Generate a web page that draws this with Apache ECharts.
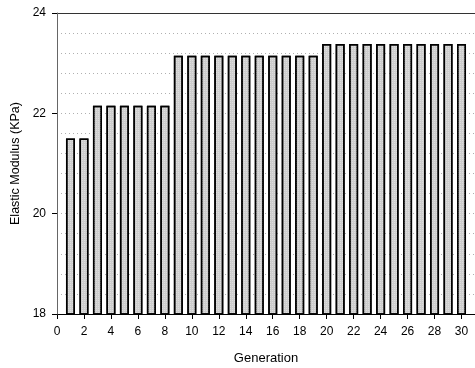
<!DOCTYPE html>
<html><head><meta charset="utf-8">
<script src="https://cdn.jsdelivr.net/npm/echarts@6/dist/echarts.min.js"></script>
<style>html,body{margin:0;padding:0;background:#fff}#c{width:475px;height:368px}</style>
</head><body><div id="c"></div>
<script>
const generations = [1,2,3,4,5,6,7,8,9,10,11,12,13,14,15,16,17,18,19,20,21,22,23,24,25,26,27,28,29,30];
const modulus = [21.5,21.5,22.15,22.15,22.15,22.15,22.15,22.15,23.15,23.15,23.15,23.15,23.15,23.15,23.15,23.15,23.15,23.15,23.15,23.38,23.38,23.38,23.38,23.38,23.38,23.38,23.38,23.38,23.38,23.38];
const xTicks = [0,2,4,6,8,10,12,14,16,18,20,22,24,26,28,30];
const yTicks = [18,20,22,24];

const chart = echarts.init(document.getElementById('c'));
const font = 'Liberation Sans, Arial, sans-serif';
chart.setOption({
  animation: false,
  grid: {left: 57, top: 13, right: 0, bottom: 54, containLabel: false, outerBoundsMode: 'none'},
  xAxis: [{
    type: 'value', min: 0, max: 31, interval: 1,
    name: 'Generation', nameLocation: 'middle', nameGap: 38,
    nameTextStyle: {fontFamily: font, fontSize: 13, color: '#000'},
    axisLine: {show: true, onZero: false, lineStyle: {color: '#000', width: 1}},
    axisTick: {show: true, length: 5, customValues: xTicks, lineStyle: {color: '#000'}},
    axisLabel: {customValues: xTicks, margin: 12, fontFamily: font, fontSize: 12, color: '#000'},
    splitLine: {show: false}
  }, {
    type: 'value', min: 0, max: 31, position: 'top',
    axisLine: {show: true, lineStyle: {color: '#333', width: 1}},
    axisTick: {show: false}, axisLabel: {show: false}, splitLine: {show: false}
  }],
  yAxis: [{
    type: 'value', min: 18, max: 24, interval: 2,
    name: 'Elastic Modulus (KPa)', nameLocation: 'middle', nameGap: 33,
    nameTextStyle: {fontFamily: font, fontSize: 12.5, color: '#000'},
    axisLine: {show: true, lineStyle: {color: '#666', width: 1}},
    axisTick: {show: true, length: 5, lineStyle: {color: '#000'}},
    axisLabel: {margin: 11, fontFamily: font, fontSize: 12, color: '#000'},
    splitLine: {show: false},
    z: 3
  }, {
    type: 'value', min: 18, max: 24, interval: 0.4, position: 'left',
    axisLine: {show: false}, axisTick: {show: false}, axisLabel: {show: false},
    splitLine: {show: true, lineStyle: {color: '#b0b0b0', type: [1, 3], width: 1}}
  }],
  series: [{
    type: 'bar', xAxisIndex: 0, yAxisIndex: 0,
    data: generations.map((g, i) => [g, modulus[i]]),
    barWidth: 9,
    itemStyle: {color: '#cdcdcd', borderColor: '#000', borderWidth: 1.5,
      decal: {symbol: 'rect', symbolSize: 1, dashArrayX: [1, 1], dashArrayY: [1, 1], color: 'rgba(255,255,255,0.35)'}}
  }]
});
</script></body></html>
